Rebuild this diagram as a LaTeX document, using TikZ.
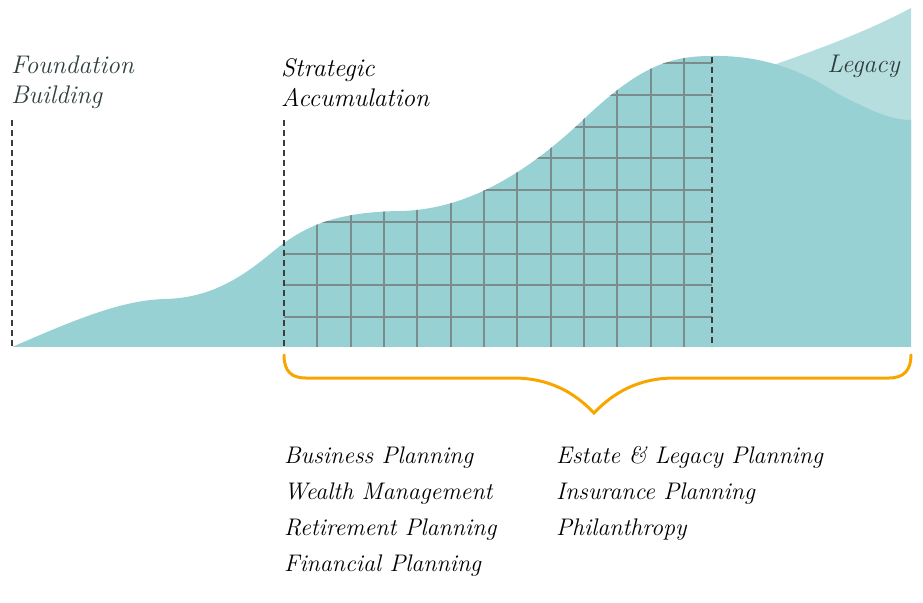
\documentclass[tikz,border=0pt]{standalone}
\usepackage{fontspec}
\usetikzlibrary{positioning}
\definecolor{hillteal}{HTML}{98D1D4}
\definecolor{legacylight}{HTML}{B7DEDF}
\definecolor{gridgray}{HTML}{7B8C8C}
\definecolor{dashgray}{HTML}{3C3C3C}
\definecolor{braceorange}{HTML}{F7A600}
\definecolor{slatetext}{HTML}{2E3E3E}
\tikzset{
  gridline/.style={gridgray, line width=2pt},
  phaseline/.style={dashgray, line width=1.3pt, dash pattern=on 6pt off 4pt},
  bracket/.style={braceorange, line width=3pt, line cap=round},
  headtext/.style={anchor=base west, inner sep=0pt, font=\fontsize{25.5}{30}\selectfont\itshape},
  itemtext/.style={anchor=base west, inner sep=0pt, font=\fontsize{24}{28}\selectfont\itshape},
}

\begin{document}
\begin{tikzpicture}[x=1pt,y=-1pt]
	\useasboundingbox (0,0) rectangle (923,602);
	% legacy band behind the hill
	\fill[legacylight] (765,68) .. controls (810,52) and (860,35) .. (911,8) -- (911,200) -- (765,200) -- cycle;
	\begin{scope}
		\clip (12,347) .. controls (70,322) and (120,300) .. (165,299)
			.. controls (205,298) and (235,283) .. (270,254)
			.. controls (300,229) and (330,212) .. (400,211)
			.. controls (460,210) and (520,180) .. (585,118)
			.. controls (640,66) and (670,56) .. (712,56)
			.. controls (765,55) and (805,72) .. (840,95)
			.. controls (870,110) and (890,120) .. (911,120) -- (911,347) -- cycle;
		\fill[hillteal] (0,0) rectangle (923,347);
		\foreach \gx in {1,...,12}
			\draw[gridline] (284+33.33*\gx,0) -- (284+33.33*\gx,347);
		\foreach \gy in {0,...,8}
			\draw[gridline] (284,317-31.75*\gy) -- (712,317-31.75*\gy);
	\end{scope}
	\draw[phaseline, line width=2pt] (12,120) -- (12,347);
	\draw[phaseline] (284,120) -- (284,347);
	\draw[phaseline, line width=1.5pt] (712,57) -- (712,347);
	\draw[bracket] (284,355) .. controls (284,372) and (292,378) .. (306,378) -- (513,378)
		.. controls (550,378) and (575,393) .. (594,413)
		.. controls (613,393) and (638,378) .. (675,378) -- (889,378)
		.. controls (904,378) and (911,370) .. (911,355);
	\node[headtext, slatetext] (found1) at (11,74) {Foundation};
	\node[headtext, slatetext] (found2) at (11,103) {Building};
	\node[headtext] (strat1) at (281,77) {Strategic};
	\node[headtext] (strat2) at (281,106) {Accumulation};
	\node[headtext, slatetext, anchor=base east] (legacy) at (900,73) {Legacy};
	\foreach \txt [count=\i] in {Business Planning,Wealth Management,Retirement Planning,Financial Planning}
		\node[itemtext] (lefti\i) at (284,427+36*\i) {\txt};
	\foreach \txt [count=\i] in {Estate \& Legacy Planning,Insurance Planning,Philanthropy}
		\node[itemtext] (righti\i) at (556,427+36*\i) {\txt};
\end{tikzpicture}
\end{document}
